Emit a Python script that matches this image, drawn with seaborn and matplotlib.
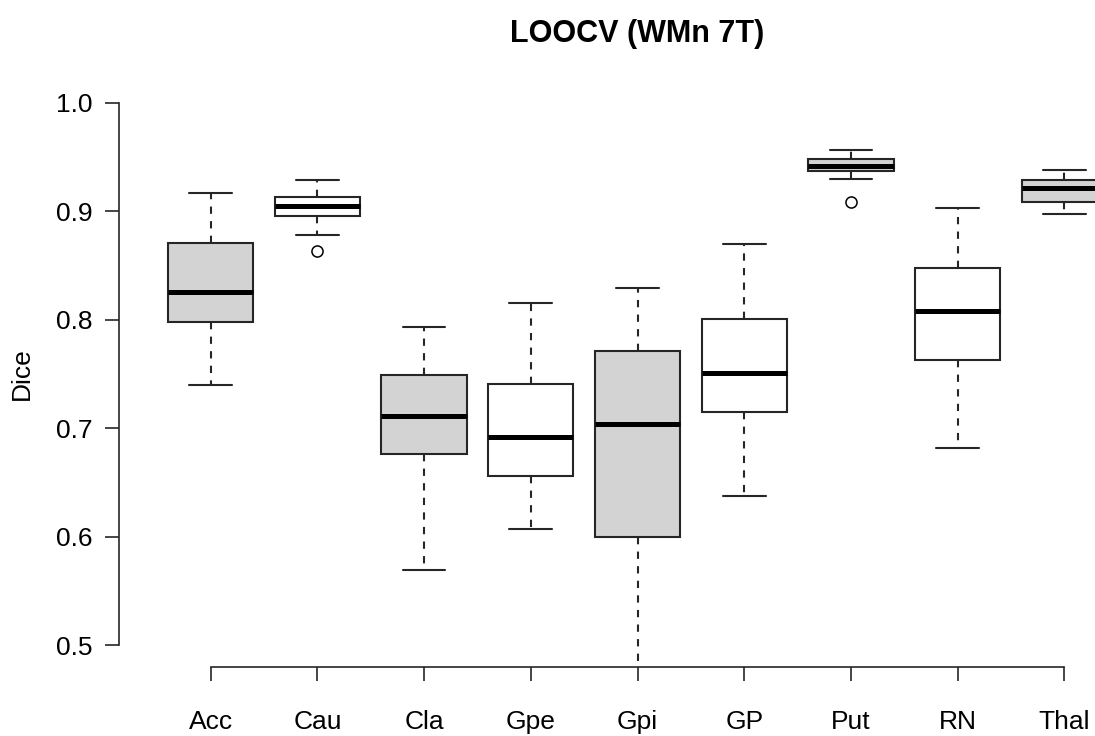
import numpy as np
import pandas as pd
import matplotlib
matplotlib.use('Agg')
import matplotlib.pyplot as plt
import seaborn as sns

# regions on the x axis
regions = ['Acc', 'Cau', 'Cla', 'Gpe', 'Gpi', 'GP', 'Put', 'RN', 'Thal']

# five-number summaries: lower whisker, Q1, median, Q3, upper whisker
acc = [0.740, 0.798, 0.826, 0.871, 0.917]
cau = [0.878, 0.896, 0.905, 0.913, 0.929]
cla = [0.569, 0.6765, 0.711, 0.749, 0.793]
gpe = [0.607, 0.656, 0.692, 0.7405, 0.8155]
gpi = [0.450, 0.600, 0.7035, 0.771, 0.829]
gp = [0.637, 0.715, 0.751, 0.801, 0.870]
put = [0.930, 0.937, 0.942, 0.9485, 0.9565]
rn = [0.682, 0.763, 0.808, 0.848, 0.903]
thal = [0.898, 0.9087, 0.922, 0.929, 0.938]

# outliers (open circles)
outlier_regions = ['Cau', 'Put']
outlier_values = [0.8635, 0.909]

box_colors = ['#d3d3d3', 'white', '#d3d3d3', 'white', '#d3d3d3',
              'white', '#d3d3d3', 'white', '#d3d3d3']

summaries = [acc, cau, cla, gpe, gpi, gp, put, rn, thal]
df = pd.DataFrame({
    'region': np.repeat(regions, 5),
    'dice': np.concatenate(summaries),
})
df_out = pd.DataFrame({'region': outlier_regions, 'dice': outlier_values})

sns.set_theme(style='ticks')
plt.rcParams['font.family'] = ['Liberation Sans', 'DejaVu Sans']
plt.rcParams['text.color'] = 'black'

fig = plt.figure(figsize=(10.95, 7.36), dpi=100)
ax = fig.add_axes([0.10868, 0.09416, 0.94703, 0.79538])

edge = '#262626'
sns.boxplot(data=df, x='region', y='dice', hue='region', order=regions,
            hue_order=regions, palette=box_colors, legend=False, whis=np.inf,
            width=0.8, linewidth=1.5, linecolor=edge, ax=ax,
            medianprops=dict(color='black', linewidth=3.6),
            whiskerprops=dict(linestyle=(0, (3.5, 3.5)), color=edge),
            capprops=dict(color=edge))
sns.stripplot(data=df_out, x='region', y='dice', order=regions, jitter=False,
              color='white', edgecolor='black', linewidth=1.1, size=8,
              ax=ax, zorder=5)

ax.set_xlim(-0.86, 8.86)
ax.set_ylim(0.48, 1.02)
ax.set_yticks([0.5, 0.6, 0.7, 0.8, 0.9, 1.0])
ax.set_yticklabels(['0.5', '0.6', '0.7', '0.8', '0.9', '1.0'])
ax.set_xticks(range(len(regions)))
ax.set_xticklabels(regions)
ax.set_xlabel('')
ax.set_ylabel('')

for s in ['top', 'right']:
    ax.spines[s].set_visible(False)
ax.spines['left'].set_bounds(0.5, 1.0)
ax.spines['bottom'].set_bounds(0, 8)
for s in ['left', 'bottom']:
    ax.spines[s].set_color(edge)
    ax.spines[s].set_linewidth(1.2)

ax.tick_params(axis='both', direction='out', length=10, width=1.2,
               color=edge, labelsize=19, labelcolor='black')
ax.tick_params(axis='x', pad=21)
ax.tick_params(axis='y', pad=9)

ax.set_title('LOOCV (WMn 7T)', fontsize=22, fontweight='bold', pad=28,
             color='black')
fig.text(22 / 1095, 1 - 374 / 736, 'Dice', rotation=90, ha='center',
         va='center', fontsize=19, color='black')

fig.savefig('out.png', dpi=100)
